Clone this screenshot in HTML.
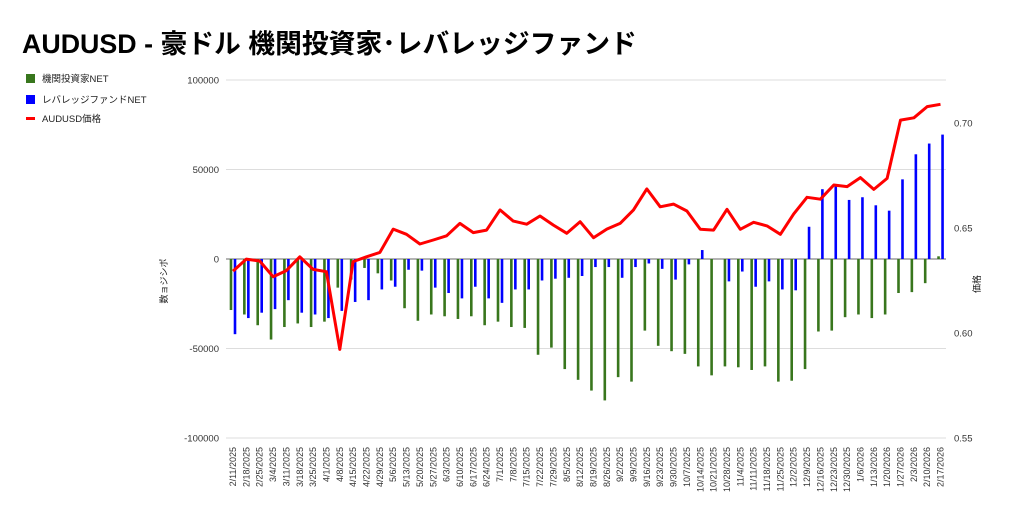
<!DOCTYPE html>
<html><head><meta charset="utf-8"><style>
body{margin:0;background:#fff;width:1024px;height:518px;overflow:hidden}
svg{display:block;font-family:"Liberation Sans","Noto Sans CJK JP",sans-serif}
</style></head><body>
<svg id="chart" width="1024" height="518">
<text x="22" y="53" font-size="26.8" font-weight="bold" fill="#000">AUDUSD - 豪ドル 機関投資家･レバレッジファンド</text>
<g>
<rect x="26" y="74" width="9" height="9" fill="#38761d"/>
<text x="42" y="82" font-size="9.5" fill="#222">機関投資家NET</text>
<rect x="26" y="95" width="9" height="9" fill="#0000ff"/>
<text x="42" y="103" font-size="9.5" fill="#222">レバレッジファンドNET</text>
<rect x="26" y="117" width="9" height="3" fill="#ff0000"/>
<text x="42" y="122" font-size="9.5" fill="#222">AUDUSD価格</text>
</g>
<text transform="translate(167,281) rotate(-90)" font-size="9" text-anchor="middle" fill="#222">数ョジシポ</text>
<text transform="translate(980,284) rotate(-90)" font-size="9" text-anchor="middle" fill="#222">価格</text>
<g id="grid"></g><g id="bars"></g><g id="line"></g><g id="labels"></g>
</svg>
<script>
const categories=["2/11/2025","2/18/2025","2/25/2025","3/4/2025","3/11/2025","3/18/2025","3/25/2025","4/1/2025","4/8/2025","4/15/2025","4/22/2025","4/29/2025","5/6/2025","5/13/2025","5/20/2025","5/27/2025","6/3/2025","6/10/2025","6/17/2025","6/24/2025","7/1/2025","7/8/2025","7/15/2025","7/22/2025","7/29/2025","8/5/2025","8/12/2025","8/19/2025","8/26/2025","9/2/2025","9/9/2025","9/16/2025","9/23/2025","9/30/2025","10/7/2025","10/14/2025","10/21/2025","10/28/2025","11/4/2025","11/11/2025","11/18/2025","11/25/2025","12/2/2025","12/9/2025","12/16/2025","12/23/2025","12/30/2025","1/6/2026","1/13/2026","1/20/2026","1/27/2026","2/3/2026","2/10/2026","2/17/2026"];
const institutional=[-28500,-31000,-37000,-45000,-38000,-36000,-38000,-35000,-16000,-11500,-5000,-8000,-12000,-27500,-34500,-31000,-32000,-33500,-32000,-37000,-35000,-38000,-38500,-53500,-49500,-61500,-67500,-73500,-79000,-66000,-68500,-40000,-48500,-51500,-53000,-60000,-65000,-60000,-60500,-62000,-60000,-68500,-68000,-61500,-40500,-40000,-32500,-31000,-33000,-31000,-19000,-18500,-13500,1500];
const leveraged=[-42000,-33000,-30000,-28000,-23000,-30000,-31000,-33000,-29000,-24000,-23000,-17000,-15500,-6000,-6500,-16000,-19000,-22000,-15500,-22000,-24500,-17000,-17000,-12000,-11000,-10500,-9500,-4500,-4500,-10500,-4500,-2500,-5500,-11500,-3000,5000,0,-12500,-7000,-15500,-12500,-17000,-17500,18000,39000,40500,33000,34500,30000,27000,44500,58500,64500,69500];
const price=[0.6295,0.6352,0.6343,0.6268,0.6297,0.6363,0.6303,0.6292,0.5922,0.6340,0.6363,0.6384,0.6495,0.6470,0.6424,0.6443,0.6463,0.6522,0.6478,0.6490,0.6586,0.6533,0.6518,0.6557,0.6514,0.6475,0.6530,0.6454,0.6495,0.6522,0.6586,0.6686,0.6601,0.6614,0.6581,0.6494,0.6490,0.6589,0.6494,0.6527,0.6510,0.6470,0.6567,0.6646,0.6637,0.6705,0.6697,0.6740,0.6684,0.6736,0.7014,0.7025,0.7078,0.7089];
const leftTicks=[100000,50000,0,-50000,-100000];
const rightTicks=["0.70","0.65","0.60","0.55"];

const NS="http://www.w3.org/2000/svg";
const X0=233, STEP=13.35;
const xc=i=>X0+i*STEP;
const yL=v=>259-v*0.00179;
const yR=v=>438-(v-0.55)*2100;
function mk(tag,attrs,parent,text){const e=document.createElementNS(NS,tag);for(const k in attrs)e.setAttribute(k,attrs[k]);if(text!==undefined)e.textContent=text;document.getElementById(parent).appendChild(e);return e;}

leftTicks.forEach(t=>{
  const y=yL(t);
  const g=mk('line',{x1:226,x2:946,y1:y,y2:y,stroke:t===0?'#888':'#ddd','stroke-width':t===0?1.3:1},'grid');
  
  
  const l=mk('text',{x:219,y:y+3.5,'font-size':9.5,'text-anchor':'end',fill:'#333'},'labels',String(t));
  
  
});
rightTicks.forEach(t=>{
  const l=mk('text',{x:954,y:yR(parseFloat(t))+3.5,'font-size':9.5,fill:'#333'},'labels',t);
  
  
});
categories.forEach((c,i)=>{
  const x=xc(i);
  const a=institutional[i], b=leveraged[i];
  const r1=mk('rect',{x:x-3.3,y:Math.min(yL(a),yL(0)),width:2.6,height:Math.abs(yL(a)-yL(0)),fill:'#38761d'},'bars');
  
  
  const r2=mk('rect',{x:x+0.7,y:Math.min(yL(b),yL(0)),width:2.6,height:Math.abs(yL(b)-yL(0)),fill:'#0000ff'},'bars');
  
  
  const t=mk('text',{transform:`translate(${x+3},447) rotate(-90)`,'font-size':9,'text-anchor':'end',fill:'#333'},'labels',c);
  
  
});
const pts=price.map((p,i)=>xc(i).toFixed(1)+','+yR(p).toFixed(1)).join(' ');
const pl=mk('polyline',{points:pts,fill:'none',stroke:'#ff0000','stroke-width':3,'stroke-linejoin':'round'},'line');


</script>
</body></html>
